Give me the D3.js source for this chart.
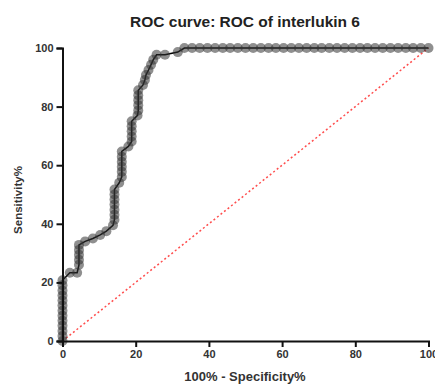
<!DOCTYPE html>
<html><head><meta charset="utf-8">
<script src="https://cdn.jsdelivr.net/npm/d3@7"></script>
<style>body{margin:0;background:#fff}svg{display:block}</style>
</head><body>
<script>
// ROC points: 100% - Specificity% (x) and Sensitivity% (y)
const fpr = [0,0,0,0,0,0,0,0,0,0,0,0,0,
  2.0,4.0,
  4.5,4.5,4.5,4.5,4.5,
  6.2,8.3,10.3,12.0,13.8,
  14.2,14.2,14.2,14.2,14.2,14.2,14.2,
  15.5,16.2,16.2,16.2,16.2,16.2,16.2,
  18.0,18.9,18.9,18.9,18.9,18.9,
  20.5,20.7,20.7,20.7,20.7,20.7,
  22.0,22.5,22.8,23.5,24.2,24.8,25.7,28.0,31.5,
  33.3,35.4,37.5,39.6,41.7,43.8,45.8,47.9,50,52.1,54.2,56.3,58.3,60.4,62.5,64.6,66.7,68.8,70.8,72.9,75,77.1,79.2,81.3,83.3,85.4,87.5,89.6,91.7,93.8,95.8,97.9,100];
const tpr = [0,1.7,3.4,5.2,6.9,8.6,10.3,12.1,13.8,15.5,17.2,19.0,20.7,
  23.3,23.3,
  26.0,27.7,29.4,31.1,32.8,
  34.0,35.0,36.2,37.5,39.5,
  41.4,43.1,44.8,46.6,48.3,50.0,51.7,
  54.0,56.0,57.8,59.5,61.2,62.9,64.7,
  66.4,68.1,69.8,71.6,73.3,75.0,
  77.0,78.7,80.5,82.2,83.9,85.6,
  87.4,89.1,90.8,92.5,94.3,96.0,97.7,97.7,98.6,
  100,100,100,100,100,100,100,100,100,100,100,100,100,100,100,100,100,100,100,100,100,100,100,100,100,100,100,100,100,100,100,100,100];
const ticks = [0,20,40,60,80,100];
const chartTitle = "ROC curve: ROC of interlukin 6";
const xTitle = "100% - Specificity%";
const yTitle = "Sensitivity%";

const W = 435, H = 385;
const svg = d3.select("body").append("svg").attr("width", W).attr("height", H);
const x = d3.scaleLinear().domain([0,100]).range([62.5, 428.5]);
const y = d3.scaleLinear().domain([0,100]).range([341, 48]);
const font = "'Liberation Sans', Arial, sans-serif";

// diagonal reference line
svg.append("line")
  .attr("x1", x(0)).attr("y1", y(0)).attr("x2", x(100)).attr("y2", y(100))
  .attr("stroke", "#ff4d4d").attr("stroke-width", 1.5).attr("stroke-dasharray", "2,2.5");

const pts = fpr.map((v,i)=>[v,tpr[i]]);
svg.append("path").datum(pts)
  .attr("d", d3.line().x(d=>x(d[0])).y(d=>y(d[1])))
  .attr("fill","none").attr("stroke","#000").attr("stroke-width",1.5);
svg.append("g").selectAll("circle").data(pts).join("circle")
  .attr("cx", d=>x(d[0])).attr("cy", d=>y(d[1])).attr("r", 5)
  .attr("fill", "#333").attr("fill-opacity", 0.55);

// axes
const xa = svg.append("g").attr("transform", `translate(0,${y(0)})`)
  .call(d3.axisBottom(x).tickValues(ticks).tickSize(6).tickPadding(3));
const ya = svg.append("g").attr("transform", `translate(${x(0)},0)`)
  .call(d3.axisLeft(y).tickValues(ticks).tickSize(6).tickPadding(3));
[xa, ya].forEach(a=>{
  a.select(".domain").attr("stroke","#111").attr("stroke-width",2);
  a.selectAll(".tick line").attr("stroke","#111").attr("stroke-width",2);
  a.selectAll("text").attr("font-family", font).attr("font-weight","bold")
    .attr("font-size", 11).attr("fill","#333");
});

svg.append("text").attr("x", 245).attr("y", 27).attr("text-anchor","middle")
  .attr("font-family", font).attr("font-weight","bold").attr("font-size", 15.5)
  .attr("fill","#222").text(chartTitle);
svg.append("text").attr("x", 245).attr("y", 381).attr("text-anchor","middle")
  .attr("font-family", font).attr("font-weight","bold").attr("font-size", 13)
  .attr("fill","#333").text(xTitle);
svg.append("text").attr("transform", "translate(22,200) rotate(-90)").attr("text-anchor","middle")
  .attr("font-family", font).attr("font-weight","bold").attr("font-size", 11.5)
  .attr("fill","#333").text(yTitle);
</script>
</body></html>
